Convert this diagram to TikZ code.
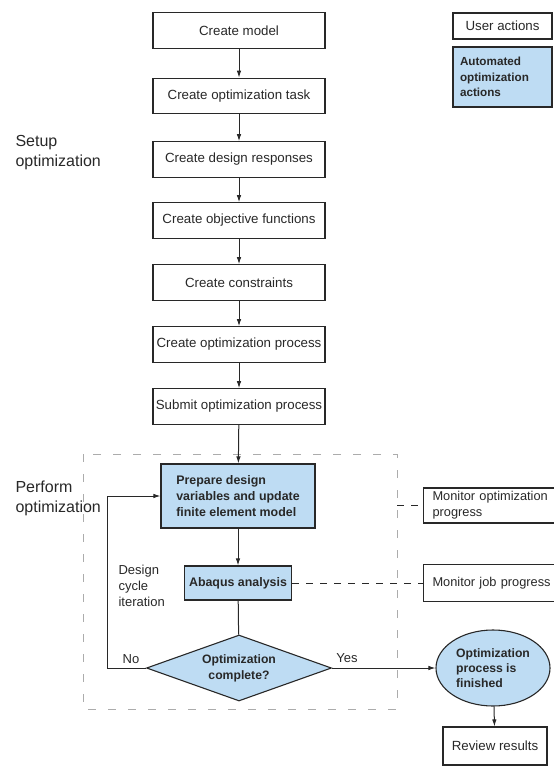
\documentclass[tikz,border=0pt]{standalone}
\usepackage{fontspec}
\setmainfont{Liberation Sans}
\usepackage{xcolor}
\usetikzlibrary{arrows.meta,calc,positioning,shapes.geometric}
\definecolor{autoblue}{RGB}{190,220,243}
\definecolor{inkgray}{RGB}{40,40,40}

\begin{document}
\begin{tikzpicture}[x=1pt,y=-1pt,>={Latex[length=7pt,width=4.5pt]},
    userbox/.style={draw=inkgray,line width=1.1pt,minimum width=172pt,minimum height=35.5pt,
      inner sep=0pt,text=inkgray,font={\fontsize{13.3}{16}\selectfont}},
    autobox/.style={draw=inkgray,line width=1.1pt,fill=autoblue,inner sep=0pt,text=inkgray,
      align=left,font={\bfseries\fontsize{12.4}{16}\selectfont}},
    monbox/.style={draw=inkgray,line width=1.1pt,anchor=west,text width=150pt,inner xsep=9pt,
      align=left,text=inkgray,font={\fontsize{12.8}{16}\selectfont}},
    phase/.style={anchor=west,align=left,text=inkgray,font={\fontsize{16}{20}\selectfont}},
    flow/.style={->,line width=1pt,inkgray},
    watch/.style={line width=1pt,inkgray,dash pattern=on 7pt off 7pt}]
  \clip (0,0) rectangle (554,766);

  % setup chain
  \node[userbox] (model)  at (239,30.5)  {Create model};
  \node[userbox] (task)   at (239,96)    {Create optimization task};
  \node[userbox] (resp)   at (239,159.5) {Create design responses};
  \node[userbox] (objfun) at (239,220.5) {Create objective functions};
  \node[userbox] (constr) at (239,282.5) {Create constraints};
  \node[userbox] (proc)   at (239,344.5) {Create optimization process};
  \node[userbox] (submit) at (239,406.5) {Submit optimization process};
  \foreach \a/\b in {model/task,task/resp,resp/objfun,objfun/constr,constr/proc,proc/submit}
    \draw[flow] (\a) -- (\b);

  % legend
  \node[userbox,minimum width=99pt,minimum height=26pt] (leguser) at (502.5,26) {User actions};
  \node[autobox,text width=85pt,inner xsep=7pt,minimum height=60pt,
        font={\bfseries\fontsize{11.7}{15.5}\selectfont}] (legauto) at (502.5,77)
        {Automated\\optimization\\actions};

  \node[phase] (setup) at (12,153) {Setup\\optimization};
  \node[phase] (perform) at (12,498) {Perform\\optimization};

  % optimization loop
  \coordinate (regNW) at (83,454);
  \coordinate (regSE) at (397,709);
  \draw[gray!65,line width=0.6pt,dash pattern=on 8pt off 12pt] (regNW) rectangle (regSE);

  \node[autobox,minimum width=154pt,minimum height=64pt] (prep) at (238,496)
        {Prepare design\\variables and update\\finite element model};
  \node[autobox,minimum width=107pt,minimum height=34pt] (abq) at (238,583) {Abaqus analysis};
  \node[diamond,aspect=2.8,draw=inkgray,line width=1.1pt,fill=autoblue,inner sep=0pt,
        minimum width=185pt,minimum height=66pt,align=center,text=inkgray,
        font={\bfseries\fontsize{12.2}{16}\selectfont}] (dec) at (239,668)
        {Optimization\\complete?};
  \node[ellipse,draw=inkgray,line width=1.1pt,fill=autoblue,inner sep=0pt,
        minimum width=114pt,minimum height=76pt,align=left,text=inkgray,
        font={\bfseries\fontsize{12.2}{15}\selectfont}] (done) at (493,668)
        {Optimization\\process is\\finished};
  \node[userbox,minimum width=104pt,minimum height=38pt] (review) at (495,746) {Review results};

  \node[monbox,minimum height=35pt] (monopt) at (423,505.5) {Monitor optimization\\progress};
  \node[monbox,minimum height=37pt] (monjob) at (423,583) {Monitor job progress};

  \draw[flow] (submit) -- (prep);
  \draw[flow] (prep) -- (abq);
  \draw[line width=1pt,inkgray] (abq) -- (dec);
  \coordinate (loopcorner) at (107,668);
  \draw[flow] (dec.west) -- (loopcorner) |- (prep.west);
  \draw[flow] (dec.east) -- (done.west);
  \draw[flow] (done) -- (review);
  \draw[watch] (abq.east) -- (monjob.west);
  \draw[watch] (regSE |- monopt.west) -- (monopt.west);

  \node[phase,font={\fontsize{13}{16}\selectfont}] (cyclelbl) at (115,586) {Design\\cycle\\iteration};
  \node[text=inkgray,font={\fontsize{13}{16}\selectfont}] (nolbl) at (131,659) {No};
  \node[text=inkgray,font={\fontsize{13}{16}\selectfont}] (yeslbl) at (347,658) {Yes};
\end{tikzpicture}
\end{document}
